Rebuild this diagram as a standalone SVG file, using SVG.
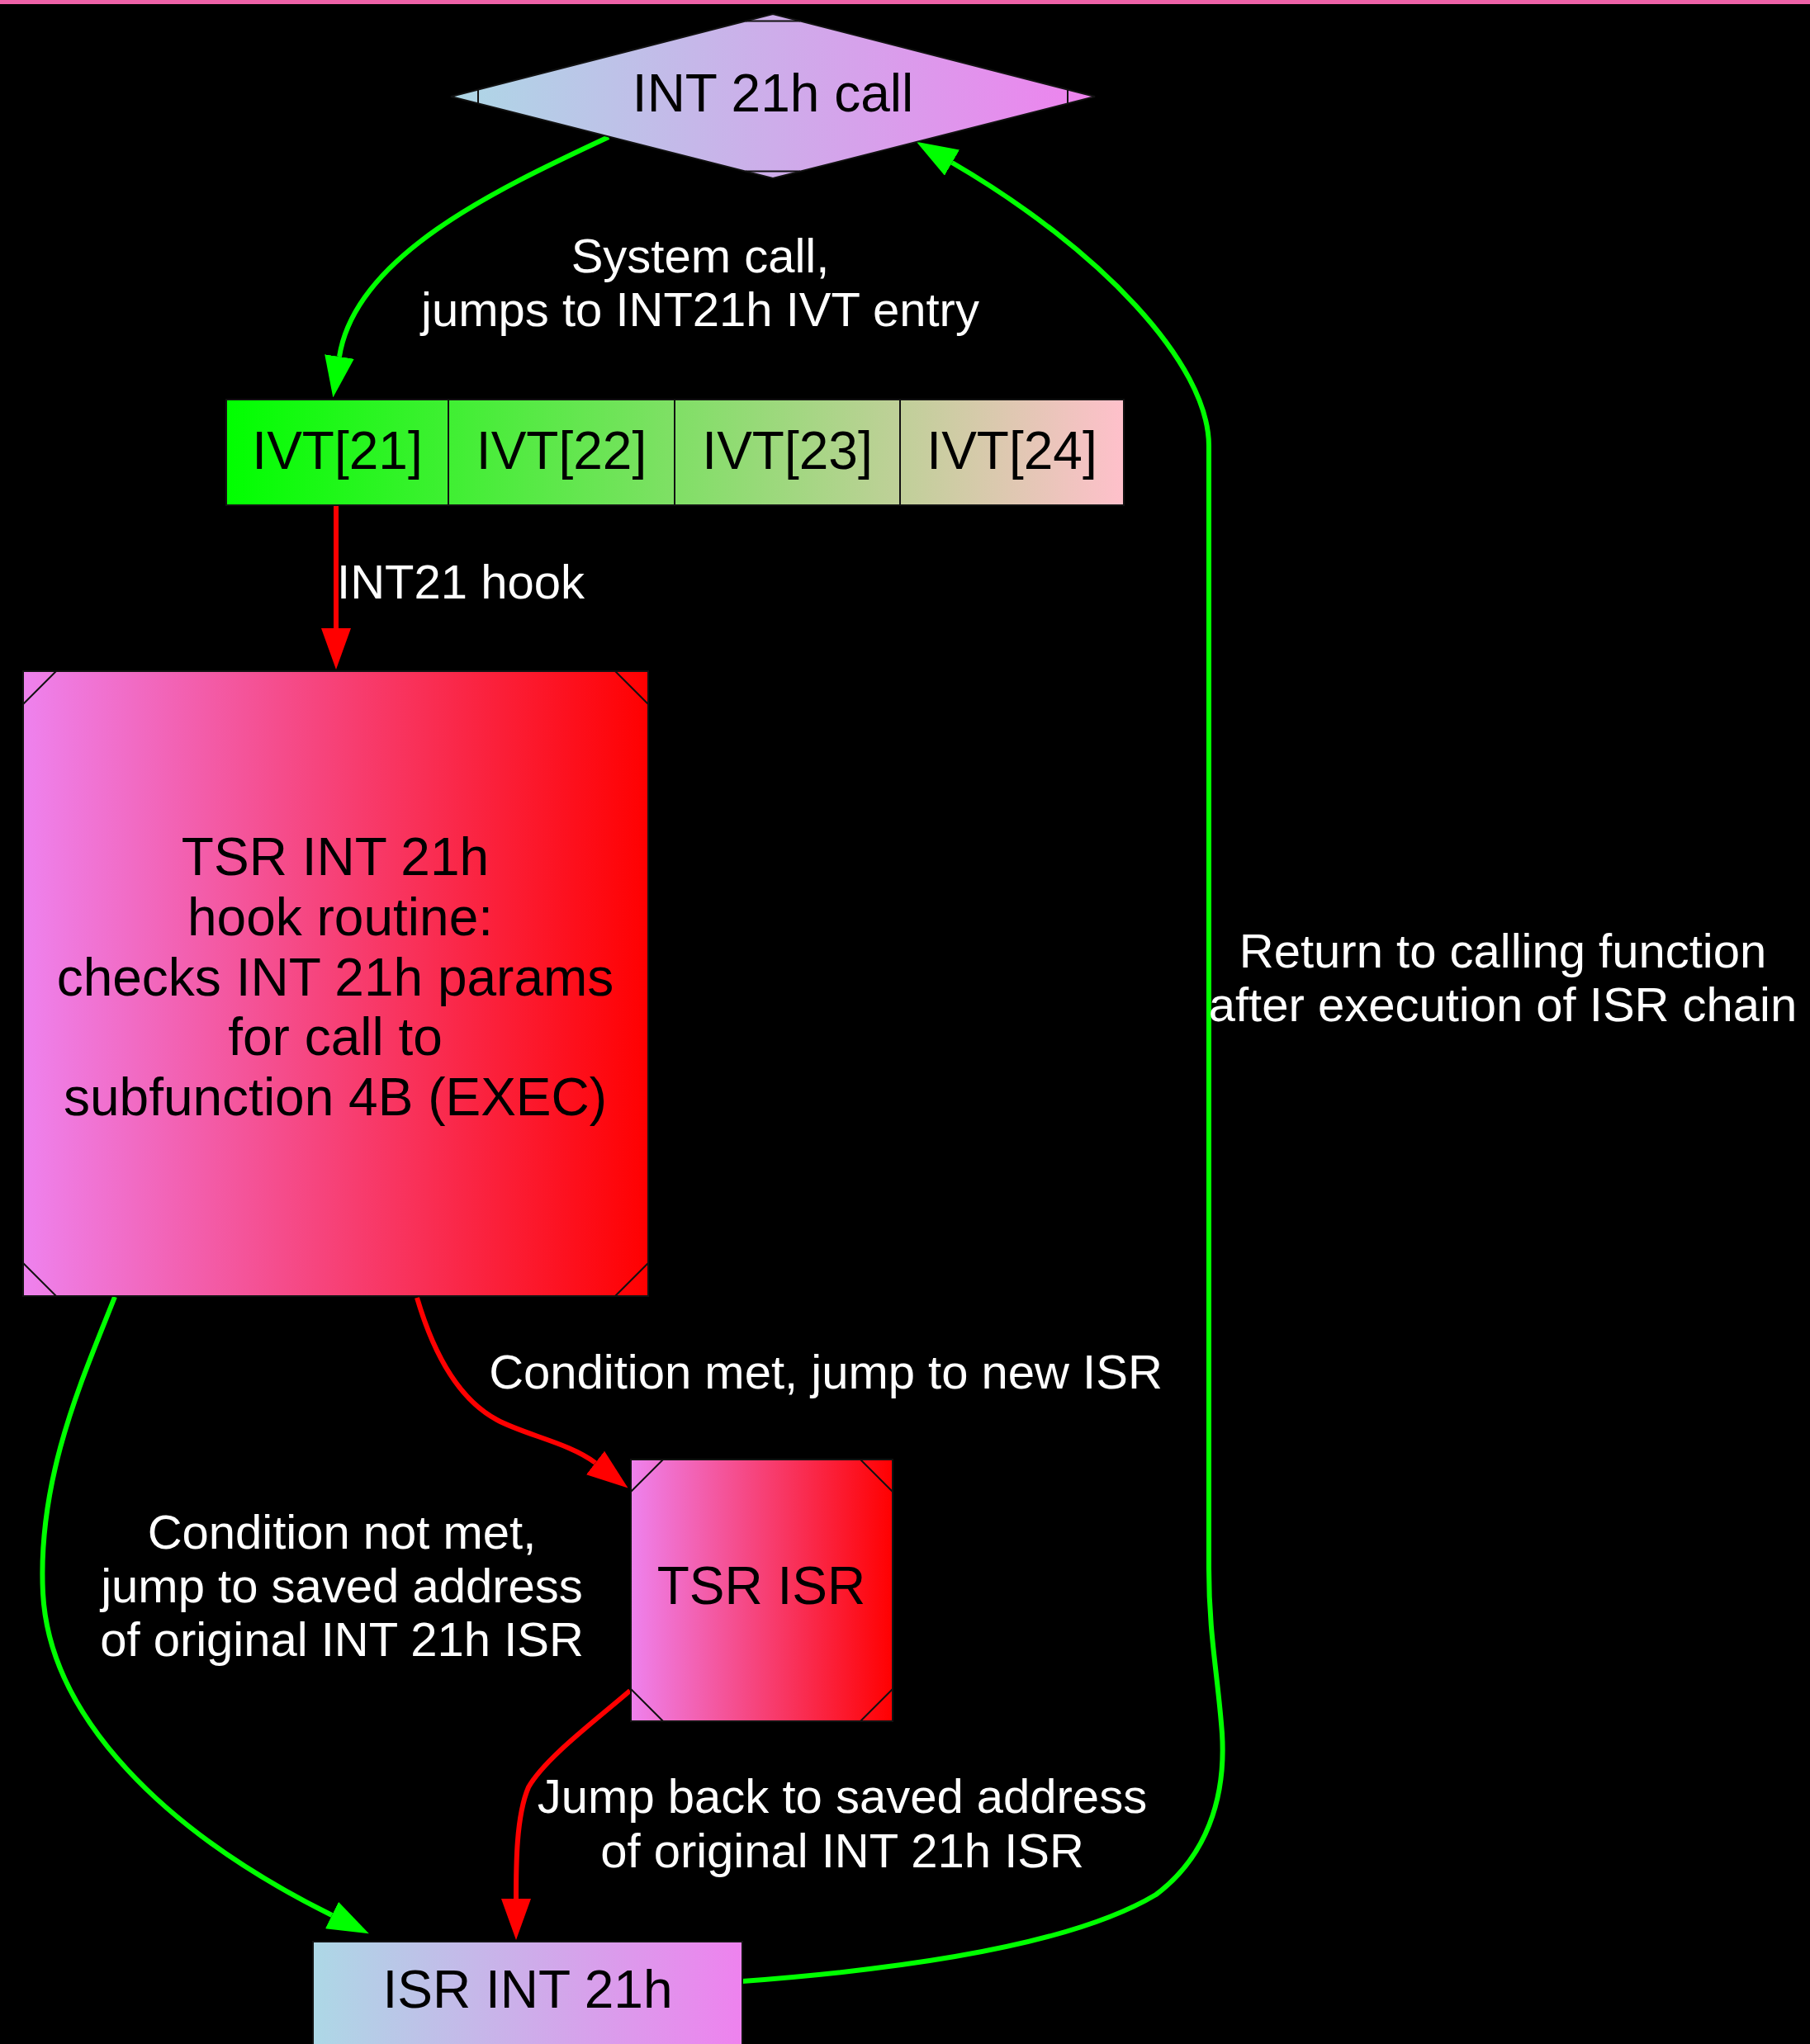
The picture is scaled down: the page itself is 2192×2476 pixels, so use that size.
<svg xmlns="http://www.w3.org/2000/svg" width="2192" height="2476" viewBox="0 0 2192 2476">
<defs>
<linearGradient id="gBlueViolet" x1="0" y1="0" x2="1" y2="0"><stop offset="0" stop-color="#ADD8E6"/><stop offset="1" stop-color="#EE82EE"/></linearGradient>
<linearGradient id="gVioletRed" x1="0" y1="0" x2="1" y2="0"><stop offset="0" stop-color="#EE82EE"/><stop offset="1" stop-color="#FF0000"/></linearGradient>
<linearGradient id="gGreenPink" gradientUnits="userSpaceOnUse" x1="274" y1="0" x2="1361" y2="0"><stop offset="0" stop-color="#00FF00"/><stop offset="1" stop-color="#FFC0CB"/></linearGradient>
<marker id="arrG" markerUnits="userSpaceOnUse" markerWidth="50" markerHeight="36" viewBox="0 0 50 36" refX="0" refY="18" orient="auto"><path d="M0,0 L50,18 L0,36 Z" fill="#00FF00"/></marker>
<marker id="arrR" markerUnits="userSpaceOnUse" markerWidth="50" markerHeight="36" viewBox="0 0 50 36" refX="0" refY="18" orient="auto"><path d="M0,0 L50,18 L0,36 Z" fill="#FF0000"/></marker>
<style>
.node{stroke:#111;stroke-width:2}
.mark{stroke:#111;stroke-width:2;fill:none}
.nl{font-family:"Liberation Sans",Arial,sans-serif;font-size:64px;fill:#000;text-anchor:middle}
.el{font-family:"Liberation Sans",Arial,sans-serif;font-size:58px;fill:#fff;text-anchor:middle}
.eg{fill:none;stroke:#00FF00;stroke-width:6;marker-end:url(#arrG)}
.er{fill:none;stroke:#FF0000;stroke-width:6;marker-end:url(#arrR)}
</style>
</defs>
<rect x="0" y="0" width="2192" height="2476" fill="#000"/>
<rect x="0" y="0" width="2192" height="5" fill="#EE62A8"/>

<g id="connectors">
<path class="eg" d="M737,166 C600,230 430,310 411,432"/>
<path class="er" d="M407,612 L407,761"/>
<path class="er" d="M505,1572 C525,1640 555,1695 602,1720 C635,1738 690,1748 721,1772"/>
<path class="eg" d="M139,1571 C100,1670 45,1790 52,1930 C60,2080 200,2220 402,2320"/>
<path class="er" d="M763,2048 C720,2085 660,2130 640,2165 C625,2200 625,2260 625,2300"/>
<path class="eg" d="M899,2400 C1100,2385 1300,2355 1400,2295 C1460,2250 1485,2180 1480,2100 C1475,2030 1464,1980 1464,1900 L1464,540 C1464,440 1330,300 1153,197"/>
<text class="el" x="848" y="330">System call,</text>
<text class="el" x="848" y="395">jumps to INT21h IVT entry</text>
<text class="el" x="558" y="725">INT21 hook</text>
<text class="el" x="1000" y="1682">Condition met, jump to new ISR</text>
<text class="el" x="414" y="1876">Condition not met,</text>
<text class="el" x="414" y="1941">jump to saved address</text>
<text class="el" x="414" y="2006">of original INT 21h ISR</text>
<text class="el" x="1020" y="2196">Jump back to saved address</text>
<text class="el" x="1020" y="2262">of original INT 21h ISR</text>
<text class="el" x="1820" y="1172">Return to calling function</text>
<text class="el" x="1820" y="1237">after execution of ISR chain</text>
</g>

<g id="int21call">
<polygon class="node" points="936,17 1326,117 936,216 546,117" fill="url(#gBlueViolet)"/>
<path class="mark" d="M579,108.5 L579,125.5 M1293,108.5 L1293,125.5 M903,25.5 L969,25.5 M903,207.5 L969,207.5"/>
<text class="nl" x="936" y="135">INT 21h call</text>
</g>

<g id="ivt">
<rect class="node" x="274" y="484" width="1087" height="128" fill="url(#gGreenPink)"/>
<path class="mark" d="M543,484 L543,612 M817,484 L817,612 M1090,484 L1090,612"/>
<text class="nl" x="408.5" y="568">IVT[21]</text>
<text class="nl" x="680" y="568">IVT[22]</text>
<text class="nl" x="953.5" y="568">IVT[23]</text>
<text class="nl" x="1225.5" y="568">IVT[24]</text>
</g>

<g id="tsrhook">
<rect class="node" x="28" y="813" width="757" height="757" fill="url(#gVioletRed)"/>
<path class="mark" d="M28,853 L68,813 M745,813 L785,853 M28,1530 L68,1570 M745,1570 L785,1530"/>
<text class="nl" x="406" y="1060">TSR INT 21h</text>
<text class="nl" x="412" y="1133">hook routine:</text>
<text class="nl" x="406" y="1206">checks INT 21h params</text>
<text class="nl" x="406" y="1278">for call to</text>
<text class="nl" x="406" y="1351">subfunction 4B (EXEC)</text>
</g>

<g id="tsrisr">
<rect class="node" x="764" y="1768" width="317" height="317" fill="url(#gVioletRed)"/>
<path class="mark" d="M764,1807 L803,1768 M1042,1768 L1081,1807 M764,2046 L803,2085 M1042,2085 L1081,2046"/>
<text class="nl" x="922" y="1943">TSR ISR</text>
</g>

<g id="isrint21">
<rect class="node" x="379" y="2352" width="520" height="140" fill="url(#gBlueViolet)"/>
<text class="nl" x="639" y="2432">ISR INT 21h</text>
</g>
</svg>
